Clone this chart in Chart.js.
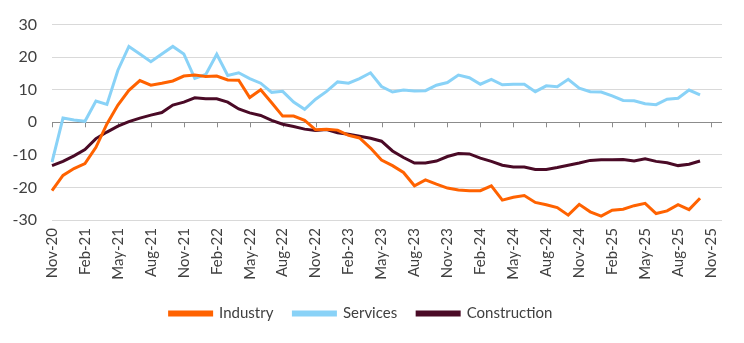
<!DOCTYPE html>
<html>
<head>
<meta charset="utf-8">
<script src="https://cdn.jsdelivr.net/npm/chart.js@4/dist/chart.umd.min.js"></script>
<style>
  html, body { margin: 0; padding: 0; background: #fff; }
  #wrap { width: 744px; height: 343px; }
</style>
</head>
<body>
<div id="wrap"><canvas id="myCanvas"></canvas></div>
<script>
// monthly categories Nov-20 .. Dec-25, every third one labelled
const months = ["Jan", "Feb", "Mar", "Apr", "May", "Jun", "Jul", "Aug", "Sep", "Oct", "Nov", "Dec"];
const labels = [];
for (let i = 0; i < 62; i++) {
  const m = (10 + i) % 12;
  const y = 20 + Math.floor((10 + i) / 12);
  labels.push(months[m] + "-" + y);
}

const industry = [
  -21, -16.3, -14.2, -12.7, -7.7, -0.5, 5.3, 9.8, 12.8, 11.4,
  12, 12.7, 14.2, 14.5, 14.1, 14.2, 13, 12.9, 7.6, 10,
  6, 1.9, 1.9, 0.6, -2.3, -2.1, -2.4, -4, -4.8, -7.9,
  -11.6, -13.3, -15.4, -19.5, -17.7, -19, -20.2, -20.8, -21, -21,
  -19.5, -23.9, -23, -22.5, -24.6, -25.3, -26.2, -28.5, -25.2, -27.5,
  -28.8, -27, -26.7, -25.6, -24.9, -28, -27.2, -25.3, -26.8, -23.3
];

const services = [
  -12.2, 1.3, 0.7, 0.3, 6.5, 5.5, 16, 23.3, 21, 18.6,
  21, 23.3, 21, 13.5, 14.7, 20.9, 14.4, 15.2, 13.4, 12,
  9.2, 9.5, 6.2, 4, 7.1, 9.5, 12.4, 12, 13.4, 15.2,
  11, 9.3, 9.9, 9.6, 9.7, 11.4, 12.2, 14.5, 13.7, 11.7,
  13.2, 11.5, 11.7, 11.7, 9.4, 11.2, 10.9, 13.2, 10.5, 9.4,
  9.3, 8.1, 6.7, 6.6, 5.7, 5.4, 7.1, 7.4, 9.9, 8.4
];

const construction = [
  -13.3, -12, -10.3, -8.4, -5, -3, -1.2, 0.2, 1.3, 2.2,
  3, 5.3, 6.2, 7.5, 7.2, 7.2, 6.2, 4.1, 2.9, 2.1,
  0.6, -0.6, -1.3, -2.1, -2.5, -2.2, -3.2, -3.7, -4.3, -4.9,
  -5.8, -8.8, -10.8, -12.5, -12.5, -11.9, -10.5, -9.6, -9.7, -11,
  -12, -13.2, -13.7, -13.7, -14.5, -14.5, -13.9, -13.2, -12.5, -11.7,
  -11.5, -11.5, -11.4, -11.9, -11.2, -12, -12.4, -13.3, -12.9, -11.9
];

const textColor = "#404040";
const fontFamily = "Lato, 'Open Sans', sans-serif";

// short tick marks hanging below the zero line
const zeroTicks = {
  id: "zeroTicks",
  beforeDatasetsDraw(chart) {
    const { ctx, scales } = chart;
    const y0 = scales.y.getPixelForValue(0);
    ctx.save();
    ctx.strokeStyle = "#8c8c8c";
    ctx.lineWidth = 1;
    ctx.beginPath();
    for (let i = 0; i < labels.length; i += 3) {
      const x = Math.round(scales.x.getPixelForValue(i)) + 0.5;
      ctx.moveTo(x, y0);
      ctx.lineTo(x, y0 + 5);
    }
    ctx.stroke();
    ctx.restore();
  },
};

const line = (label, data, color) => ({
  label,
  data,
  borderColor: color,
  backgroundColor: color,
  borderWidth: 3,
  pointRadius: 0,
  tension: 0,
});

new Chart(document.getElementById("myCanvas"), {
  type: "line",
  data: {
    labels,
    datasets: [
      line("Industry", industry, "#ff6200"),
      line("Services", services, "#89d2f7"),
      line("Construction", construction, "#4a0a26"),
    ],
  },
  options: {
    responsive: true,
    maintainAspectRatio: false,
    animation: false,
    layout: { padding: { top: 22, right: 22, left: 0, bottom: 12 } },
    plugins: {
      legend: {
        position: "bottom",
        labels: {
          boxWidth: 42,
          boxHeight: 3,
          padding: 20,
          color: textColor,
          font: { family: fontFamily, size: 15 },
        },
      },
      tooltip: { enabled: false },
    },
    scales: {
      x: {
        offset: false,
        grid: { display: false, drawTicks: false },
        border: { display: false },
        ticks: {
          autoSkip: false,
          minRotation: 90,
          maxRotation: 90,
          padding: 8,
          color: textColor,
          font: { family: fontFamily, size: 15 },
          callback: (v, i) => (i % 3 === 0 ? labels[i] : null),
        },
        afterFit: (scale) => { scale.height = 66; },
      },
      y: {
        min: -30,
        max: 30,
        grid: {
          drawTicks: false,
          color: (c) => (c.tick && c.tick.value === 0 ? "#8c8c8c" : "#d9d9d9"),
        },
        border: { display: false },
        ticks: {
          stepSize: 10,
          padding: 15,
          color: textColor,
          font: { family: fontFamily, size: 16 },
        },
        afterFit: (scale) => { scale.width = 52; },
      },
    },
  },
  plugins: [zeroTicks],
});
</script>
</body>
</html>
